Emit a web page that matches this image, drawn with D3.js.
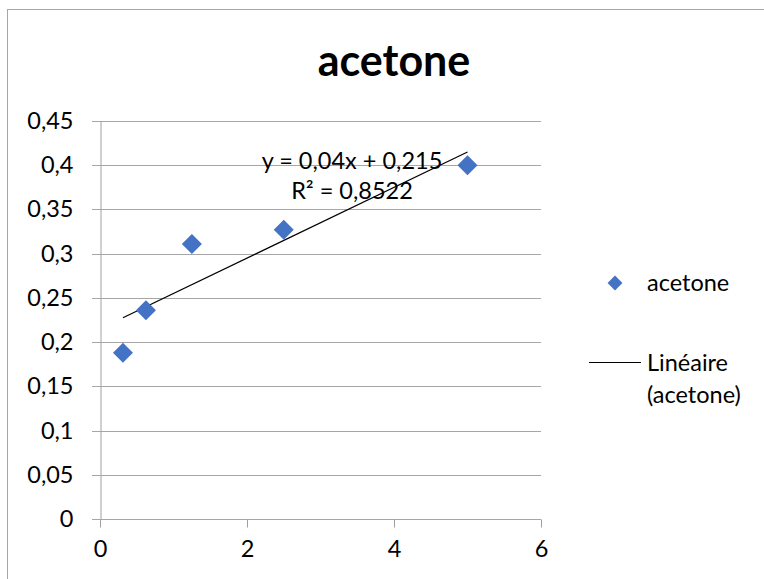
<!DOCTYPE html>
<html>
<head>
<meta charset="utf-8">
<script src="https://cdn.jsdelivr.net/npm/d3@7"></script>
<style>
  body { margin: 0; background: #fff; }
  text { font-family: Lato, "Noto Sans", sans-serif; fill: #000; }
</style>
</head>
<body>
<div id="chart"></div>
<script>
// data
let xValues = [0.3125, 0.625, 1.25, 2.5, 5];
let yValues = [0.188, 0.236, 0.311, 0.327, 0.400];
let xTicks = [0, 2, 4, 6];
let yTicks = [0, 0.05, 0.1, 0.15, 0.2, 0.25, 0.3, 0.35, 0.4, 0.45];
let slope = 0.04;
let intercept = 0.215;
let rSquared = "0,8522";

let svgWidth = 764;
let svgHeight = 579;
let fontSize = "23.5px";

let svg = d3.select("#chart")
  .append("svg")
  .attr("width", svgWidth)
  .attr("height", svgHeight);

// chart frame
svg.append("rect")
  .attr("x", 7.5).attr("y", 9.5)
  .attr("width", 800).attr("height", 600)
  .attr("fill", "none")
  .attr("stroke", "#a6a6a6");

let x = d3.scaleLinear().domain([0, 6]).range([100, 541]);
let y = d3.scaleLinear().domain([0, 0.45]).range([519, 121]);

let fmt = d => String(d).replace(".", ",");

// gridlines
svg.append("g")
  .selectAll("line")
  .data(yTicks)
  .enter()
  .append("line")
  .attr("x1", 92).attr("x2", x(6))
  .attr("y1", d => Math.round(y(d)) + 0.5)
  .attr("y2", d => Math.round(y(d)) + 0.5)
  .attr("stroke", "#a6a6a6")
  .attr("stroke-width", 1);

// y axis
let yAxis = svg.append("g")
  .attr("transform", "translate(100.5,0)")
  .call(d3.axisLeft(y).tickValues(yTicks).tickFormat(fmt).tickSize(0).tickPadding(27));
yAxis.select(".domain").attr("stroke", "#a0a0a0");
yAxis.selectAll("text").style("font-size", fontSize).style("font-family", "Lato, 'Noto Sans', sans-serif");

// x axis
let xAxis = svg.append("g")
  .attr("transform", `translate(0,${Math.round(y(0)) + 0.5})`)
  .call(d3.axisBottom(x).tickValues(xTicks).tickFormat(fmt).tickSize(8).tickPadding(13));
xAxis.select(".domain").remove();
xAxis.selectAll("line").attr("stroke", "#a0a0a0");
xAxis.selectAll("text").style("font-size", fontSize).style("font-family", "Lato, 'Noto Sans', sans-serif");

// trendline
svg.append("line")
  .attr("x1", x(d3.min(xValues))).attr("y1", y(slope * d3.min(xValues) + intercept))
  .attr("x2", x(d3.max(xValues))).attr("y2", y(slope * d3.max(xValues) + intercept))
  .attr("stroke", "#000")
  .attr("stroke-width", 1.2);

// markers
let diamond = d3.symbol().type(d3.symbolSquare).size(200);
svg.append("g")
  .selectAll("path")
  .data(xValues)
  .enter()
  .append("path")
  .attr("d", diamond)
  .attr("transform", (d, i) => `translate(${x(d)},${y(yValues[i])}) rotate(45)`)
  .attr("fill", "#4472c4");

// equation
svg.append("text")
  .attr("x", 352).attr("y", 169)
  .attr("text-anchor", "middle")
  .style("font-size", fontSize)
  .text(`y = ${fmt(slope)}x + ${fmt(intercept)}`);
svg.append("text")
  .attr("x", 352).attr("y", 199)
  .attr("text-anchor", "middle")
  .style("font-size", fontSize)
  .text(`R² = ${rSquared}`);

// title
svg.append("text")
  .attr("x", 394).attr("y", 76)
  .attr("text-anchor", "middle")
  .style("font-size", "43px")
  .style("font-weight", "bold")
  .text("acetone");

// legend
svg.append("path")
  .attr("d", d3.symbol().type(d3.symbolSquare).size(110))
  .attr("transform", "translate(615,283) rotate(45)")
  .attr("fill", "#4472c4");
svg.append("text")
  .attr("x", 647).attr("y", 291)
  .style("font-size", fontSize)
  .text("acetone");
svg.append("line")
  .attr("x1", 589).attr("x2", 641)
  .attr("y1", 362.5).attr("y2", 362.5)
  .attr("stroke", "#000");
svg.append("text")
  .attr("x", 647).attr("y", 371)
  .style("font-size", fontSize)
  .text("Linéaire");
svg.append("text")
  .attr("x", 647).attr("y", 403)
  .style("font-size", fontSize)
  .text("(acetone)");
</script>
</body>
</html>
